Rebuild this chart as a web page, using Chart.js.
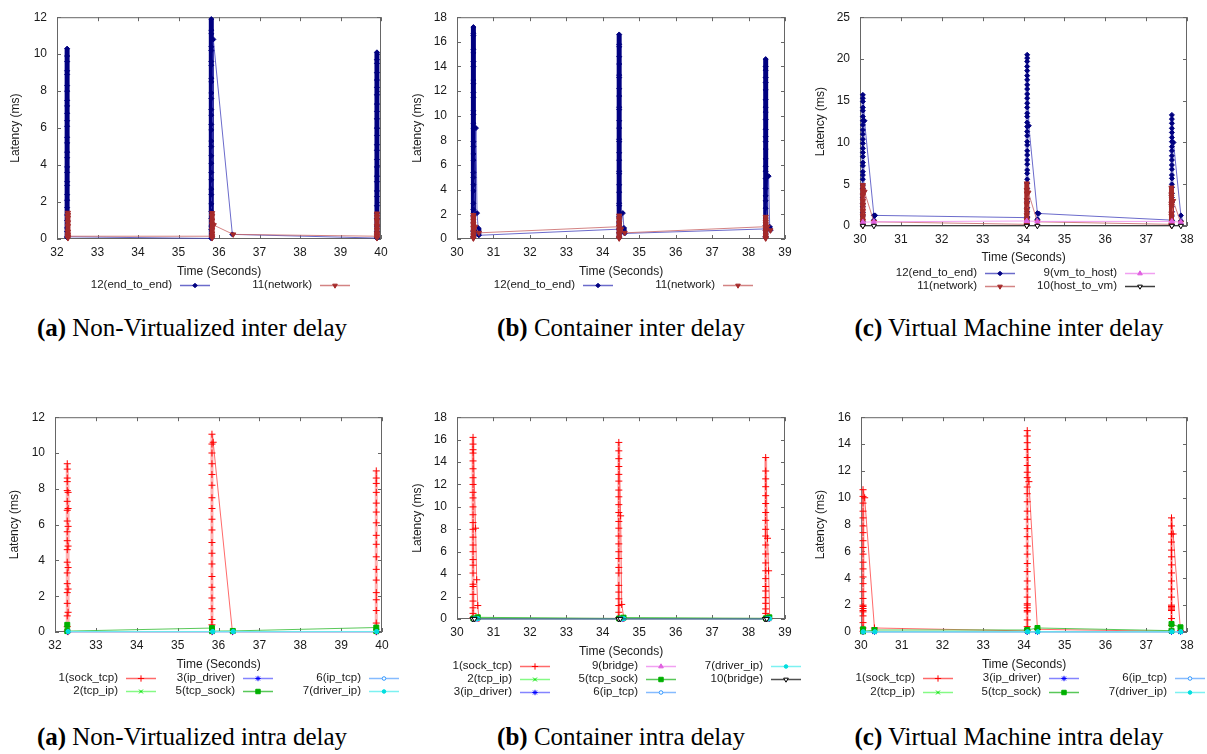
<!DOCTYPE html>
<html>
<head>
<meta charset="utf-8">
<script src="https://cdn.jsdelivr.net/npm/chart.js@4.4.1/dist/chart.umd.min.js"></script>
<style>
  body { margin: 0; background: #fff; width: 1207px; height: 754px; position: relative; overflow: hidden; }
  .panel { position: absolute; }
  .panel canvas { display: block; }
  .caption { position: absolute; width: 500px; text-align: center; line-height: 30px;
             font-family: "Liberation Serif", "Times New Roman", serif; font-size: 25px; color: #000; }
</style>
</head>
<body>
<div class="caption" style="left:-58px; top:313px"><b>(a)</b> Non-Virtualized inter delay</div>
<div class="caption" style="left:371px; top:313px"><b>(b)</b> Container inter delay</div>
<div class="caption" style="left:759px; top:313px"><b>(c)</b> Virtual Machine inter delay</div>
<div class="caption" style="left:-58px; top:722px"><b>(a)</b> Non-Virtualized intra delay</div>
<div class="caption" style="left:371px; top:722px"><b>(b)</b> Container intra delay</div>
<div class="caption" style="left:759px; top:722px"><b>(c)</b> Virtual Machine intra delay</div>

<script>
// axis ranges (seconds / ms)
const timeNV = [32, 40];
const timeCT = [30, 39];
const timeVM = [30, 38];
const latMaxInter = [12, 18, 25];
const latStepInter = [2, 2, 5];
const latMaxIntra = [12, 18, 16];

// samples grouped by timestamp: [time (s), [latencies (ms) in trace order]]

// ---- (a) non-virtualized, inter ----
const nvInterE2E = [
  [32.25, [0.08, 0.6, 1.3, 2.1, 2.9, 3.6, 4.4, 5.2, 6.1, 6.8, 7.5, 8.3, 8.9, 9.6, 10.3, 9.9, 9.1, 8.0, 7.2, 6.4, 5.5, 4.7, 3.9, 3.1, 2.4, 1.7, 1.0, 0.4, 0.12]],
  [35.81, [0.03, 0.7, 1.5, 2.4, 3.2, 4.1, 5.0, 5.9, 6.7, 7.6, 8.5, 9.4, 10.2, 11.1, 11.9, 11.3, 10.4, 9.6, 8.7, 7.9, 7.0, 6.2, 5.3, 4.5, 3.6, 2.7, 1.9, 1.1, 0.5]],
  [35.86, [10.8]], [36.33, [0.25]],
  [39.9, [0.05, 0.7, 1.4, 2.3, 3.1, 3.9, 4.8, 5.6, 6.5, 7.3, 8.2, 9.0, 9.7, 10.1, 9.5, 8.6, 7.8, 6.9, 6.0, 5.1, 4.3, 3.4, 2.6, 1.8, 1.1, 0.4, 0.06]]
];
const nvInterNet = [
  [32.27, [0.05, 0.4, 0.9, 1.3, 1.42, 1.15, 0.7, 0.25, 0.1, 0.15]],
  [35.83, [0.15, 0.5, 1.0, 1.4, 1.25, 0.8, 0.3, 0.05]],
  [35.87, [0.75]], [36.35, [0.25]],
  [39.9, [0.15, 0.5, 1.0, 1.38, 1.2, 0.7, 0.3, 0.05, 0.2]]
];

// ---- (b) container, inter ----
const ctInterE2E = [
  [30.45, [0.1, 1.3, 2.4, 3.9, 5.0, 6.4, 7.5, 9.0, 10.1, 11.5, 12.6, 14.0, 15.1, 16.5, 17.2, 16.7, 15.4, 14.4, 12.9, 11.9, 10.4, 9.4, 7.9, 6.9, 5.4, 4.4, 2.9, 1.9, 0.6, 0.2]],
  [30.52, [9.0]], [30.55, [2.1]], [30.58, [0.9]], [30.6, [0.3]],
  [34.45, [0.8, 0.1, 1.3, 2.7, 3.8, 5.3, 6.4, 7.9, 9.0, 10.5, 11.6, 13.1, 14.2, 15.6, 16.6, 15.8, 14.8, 13.3, 12.2, 10.7, 9.6, 8.1, 7.0, 5.5, 4.4, 2.9, 1.8, 0.5, 0.15]],
  [34.55, [2.1]], [34.58, [0.9]], [34.6, [0.45]],
  [38.47, [0.82, 0.1, 1.1, 2.5, 3.5, 4.9, 5.9, 7.3, 8.3, 9.7, 10.7, 12.1, 13.1, 14.0, 14.6, 13.7, 12.7, 11.3, 10.3, 8.9, 7.9, 6.5, 5.5, 4.1, 3.1, 1.7, 0.7, 0.2]],
  [38.55, [5.1]], [38.58, [1.0]], [38.6, [0.7]]
];
const ctInterNet = [
  [30.45, [0.05, 0.6, 1.2, 1.7, 1.95, 1.5, 0.9, 0.3, 0.1]], [30.5, [1.0]], [30.6, [0.5]],
  [34.45, [1.0, 0.05, 0.7, 1.3, 1.9, 1.6, 1.0, 0.4, 0.1]], [34.5, [0.8]], [34.6, [0.5]],
  [38.47, [1.0, 0.05, 0.6, 1.2, 1.8, 1.4, 0.8, 0.3, 0.1]], [38.52, [1.0]], [38.6, [0.7]]
];

// ---- (c) virtual machine, inter ----
const vmInterE2E = [
  [30.07, [0.1, 0.5, 1.2, 1.6, 2.3, 2.7, 3.4, 3.8, 4.5, 4.9, 5.6, 6.1, 6.5, 7.2, 7.6, 8.3, 8.8, 9.3, 9.9, 10.4, 11.0, 11.5, 12.1, 12.6, 13.1, 13.8, 14.2, 14.9, 15.3, 15.7]],
  [30.11, [12.6]], [30.34, [1.27, 0.7]], [30.37, [1.27]],
  [34.09, [1.0, 0.1, 0.6, 1.1, 1.7, 2.2, 2.9, 3.3, 4.0, 4.5, 5.1, 5.6, 6.3, 6.7, 7.4, 7.9, 8.5, 9.0, 9.7, 10.1, 10.8, 11.3, 11.9, 12.4, 13.1, 13.5, 14.2, 14.7, 15.3, 15.8, 16.4, 16.9, 17.5, 18.0, 18.6, 19.1, 19.7, 20.1, 20.5]],
  [34.13, [12.0]], [34.34, [1.54, 0.8]], [34.37, [1.5]],
  [37.63, [0.7, 0.1, 0.6, 1.2, 1.7, 2.3, 2.8, 3.4, 3.9, 4.6, 5.0, 5.7, 6.1, 6.8, 7.3, 7.9, 8.4, 9.0, 9.5, 10.1, 10.6, 11.2, 11.7, 12.3, 12.8, 13.3]],
  [37.67, [10.0]], [37.85, [1.27, 0.6]]
];
const vmInterNet = [
  [30.07, [0.05, 1.2, 2.5, 3.7, 4.9, 4.2, 3.0, 1.8, 0.6, 0.1]], [30.11, [4.1]], [30.34, [0.5]],
  [34.08, [0.2, 0.05, 1.3, 2.6, 3.9, 5.1, 4.3, 3.1, 1.9, 0.7, 0.1]], [34.12, [4.0]], [34.34, [0.5]],
  [37.62, [0.2, 0.05, 1.2, 2.4, 3.5, 4.6, 3.8, 2.7, 1.5, 0.4, 0.1]], [37.66, [3.0]], [37.85, [0.4]]
];
const vmInterVmHost = [[30.07, [0.45]], [30.34, [0.5]], [34.08, [0.6]], [34.34, [0.55]], [37.63, [0.55]], [37.85, [0.45]]];
const vmInterHostVm = [[30.07, [0.02]], [30.34, [0.02]], [34.08, [0.02]], [34.34, [0.02]], [37.63, [0.02]], [37.85, [0.02]]];

// ---- (a) non-virtualized, intra ----
const nvIntraSockTcp = [
  [32.3, [0.05, 0.3, 0.9, 1.6, 2.2, 2.7, 3.3, 3.9, 4.6, 5.1, 5.6, 6.2, 6.8, 7.3, 7.9, 8.4, 8.6, 9.1, 9.4]],
  [32.32, [7.8, 6.9, 5.9, 4.8, 3.6, 2.4, 1.1, 0.02]],
  [35.84, [0.02, 0.4, 0.7, 1.3, 1.9, 2.5, 3.1, 3.8, 4.4, 5.0, 5.7, 6.3, 6.9, 7.5, 8.2, 8.8, 9.4, 10.0, 10.5, 11.05]],
  [35.87, [10.6]], [36.34, [0.02]],
  [39.86, [0.02, 0.5, 1.2, 1.8, 2.2, 2.9, 3.5, 4.2, 4.9, 5.4, 6.1, 6.7, 7.2, 7.8, 8.3, 8.6, 9.0, 0.02]]
];
const nvIntraTcpIp = [[32.3, [0.02]], [35.84, [0.02]], [36.35, [0.02]], [39.86, [0.02]]];
const nvIntraIpDriver = [[32.31, [0.01]], [35.85, [0.01]], [36.35, [0.01]], [39.87, [0.01]]];
const nvIntraTcpSock = [[32.3, [0.4, 0.05]], [35.84, [0.22, 0.05]], [36.35, [0.06]], [39.86, [0.25, 0.05]]];
const nvIntraIpTcp = [[32.32, [0.02]], [35.86, [0.02]], [36.36, [0.02]], [39.87, [0.02]]];
const nvIntraDriverIp = [[32.32, [0.03]], [35.86, [0.03]], [36.36, [0.03]], [39.87, [0.03]]];

// ---- (b) container, intra ----
const ctIntraSockTcp = [
  [30.44, [0.1, 0.5, 1.0, 1.6, 2.2, 2.9, 3.1, 4.1, 4.8, 5.3, 6.0, 6.6, 7.3, 8.0, 8.6, 9.3, 10.0, 10.8, 11.3, 12.0, 12.6, 13.4, 14.1, 14.8, 15.1, 15.6, 16.2]],
  [30.51, [8.1]], [30.54, [3.5]], [30.57, [1.2]], [30.6, [0.05]],
  [34.44, [0.05, 0.1, 0.6, 1.2, 1.8, 2.4, 3.0, 4.1, 4.6, 5.4, 6.0, 6.7, 7.4, 8.1, 8.7, 9.5, 10.2, 10.9, 11.5, 12.3, 12.9, 13.6, 14.3, 15.0, 15.75]],
  [34.49, [9.2]], [34.52, [1.3]], [34.58, [0.05]],
  [38.47, [0.05, 0.1, 0.5, 0.9, 1.4, 1.9, 2.5, 2.9, 3.6, 4.3, 5.0, 5.8, 6.6, 7.4, 8.0, 8.8, 9.5, 10.3, 11.0, 11.8, 12.5, 13.2, 14.4]],
  [38.52, [7.2]], [38.55, [4.3]], [38.58, [0.05]]
];
const ctIntraTcpIp = [[30.44, [0.02]], [30.56, [0.1]], [34.44, [0.02]], [34.56, [0.1]], [38.47, [0.02]], [38.56, [0.1]]];
const ctIntraIpDriver = [[30.45, [0.01]], [30.55, [0.01]], [34.45, [0.01]], [34.55, [0.01]], [38.48, [0.01]], [38.56, [0.01]]];
const ctIntraBridge9 = [[30.46, [0.04]], [30.56, [0.05]], [34.46, [0.04]], [34.56, [0.05]], [38.48, [0.04]], [38.57, [0.05]]];
const ctIntraTcpSock = [[30.45, [0.05]], [30.57, [0.15]], [34.45, [0.05]], [34.57, [0.12]], [38.48, [0.06]], [38.57, [0.15]]];
const ctIntraIpTcp = [[30.47, [0.02]], [30.58, [0.03]], [34.47, [0.02]], [34.58, [0.03]], [38.5, [0.02]], [38.58, [0.03]]];
const ctIntraDriverIp = [[30.48, [0.03]], [30.57, [0.03]], [34.48, [0.03]], [34.57, [0.03]], [38.5, [0.03]], [38.58, [0.03]]];
const ctIntraBridge10 = [[30.43, [0.01]], [30.48, [0.01]], [34.43, [0.01]], [34.48, [0.01]], [38.45, [0.01]], [38.5, [0.01]]];

// ---- (c) virtual machine, intra ----
const vmIntraSockTcp = [
  [30.05, [0.05, 0.3, 0.7, 1.2, 1.5, 1.6, 1.75, 1.9, 2.0, 2.5, 3.0, 3.6, 4.1, 4.7, 5.2, 5.8, 6.3, 6.8, 7.4, 7.9, 8.5, 9.0, 9.6, 10.1, 10.6]],
  [30.09, [10.0]], [30.33, [0.3]],
  [34.08, [0.08, 0.05, 0.4, 0.9, 1.5, 1.6, 1.8, 2.0, 2.1, 2.6, 3.2, 3.8, 4.5, 5.1, 5.8, 6.4, 7.1, 7.7, 8.4, 9.0, 9.7, 10.3, 10.8, 11.5, 11.9, 12.4, 13.0, 13.6, 14.1, 14.6, 15.0]],
  [34.12, [11.2]], [34.33, [0.2]],
  [37.62, [0.05, 0.5, 1.0, 1.6, 1.7, 1.8, 1.9, 2.0, 2.6, 3.2, 3.8, 4.4, 5.0, 5.6, 6.1, 6.7, 7.3, 7.9, 8.5]],
  [37.66, [7.3]], [37.84, [0.1]]
];
const vmIntraTcpIp = [[30.05, [0.02]], [30.33, [0.02]], [34.08, [0.02]], [34.33, [0.02]], [37.62, [0.02]], [37.84, [0.02]]];
const vmIntraIpDriver = [[30.05, [0.01]], [30.33, [0.01]], [34.08, [0.01]], [34.33, [0.01]], [37.62, [0.01]], [37.84, [0.01]]];
const vmIntraTcpSock = [[30.05, [0.2, 0.05]], [30.33, [0.15]], [34.08, [0.15]], [34.33, [0.3]], [37.62, [0.1, 0.6]], [37.84, [0.35]]];
const vmIntraIpTcp = [[30.05, [0.01]], [30.34, [0.01]], [34.08, [0.01]], [34.34, [0.01]], [37.62, [0.01]], [37.85, [0.01]]];
const vmIntraDriverIp = [[30.06, [0.02]], [30.34, [0.02]], [34.09, [0.02]], [34.34, [0.02]], [37.63, [0.02]], [37.85, [0.02]]];

// gnuplot-like point types per trace kind
const SERIES = {
  e2e:      { style: 'rectRot',  r: 2.5, rot: 0,   mark: '#000080', fill: '#000080', line: 'rgba(70,70,190,0.8)' },
  net:      { style: 'triangle', r: 3,   rot: 180, mark: '#a52a2a', fill: '#a52a2a', line: 'rgba(200,100,100,0.8)' },
  vmHost:   { style: 'triangle', r: 3,   rot: 0,   mark: '#e060e0', fill: '#e060e0', line: 'rgba(240,150,240,0.9)' },
  hostVm:   { style: 'triangle', r: 3,   rot: 180, mark: '#000000', fill: '#ffffff', line: 'rgba(40,40,40,0.9)' },
  sockTcp:  { style: 'cross',    r: 3.5, rot: 0,   mark: '#ff0000', fill: '#ff0000', line: 'rgba(255,80,80,0.85)' },
  tcpIp:    { style: 'crossRot', r: 3,   rot: 0,   mark: '#00e000', fill: '#00e000', line: 'rgba(120,250,120,0.9)' },
  ipDriver: { style: 'star',     r: 3,   rot: 0,   mark: '#0000ff', fill: '#0000ff', line: 'rgba(110,110,255,0.85)' },
  tcpSock:  { style: 'rect',     r: 3.5, rot: 0,   mark: '#00b000', fill: '#00b000', line: 'rgba(60,190,60,0.85)' },
  ipTcp:    { style: 'circle',   r: 2,   rot: 0,   mark: '#3399ff', fill: '#ffffff', line: 'rgba(120,180,255,0.9)' },
  driverIp: { style: 'circle',   r: 2,   rot: 0,   mark: '#00dede', fill: '#00dede', line: 'rgba(110,240,240,0.9)' },
  bridge9:  { style: 'triangle', r: 3,   rot: 0,   mark: '#e060e0', fill: '#e060e0', line: 'rgba(240,150,240,0.9)' },
  bridge10: { style: 'triangle', r: 3,   rot: 180, mark: '#000000', fill: '#ffffff', line: 'rgba(60,60,60,0.9)' }
};

const FONT = '"Liberation Sans", Arial, sans-serif';
Chart.defaults.font.family = FONT;
Chart.defaults.color = '#1a1a1a';

const sockCol = 'rgba(255,130,130,0.6)';

const panels = [
  { box: [0, 0, 400, 300], plot: { l: 57, r: 381, t: 10, b: 239 }, titleY: 272, yTitleX: 16,
    time: timeNV, yMax: latMaxInter[0], yStep: latStepInter[0],
    series: [
      { key: 'net', data: nvInterNet, colW: 5, colC: '#a52a2a' },
      { key: 'e2e', data: nvInterE2E, colW: 5, colC: '#000080' }
    ],
    legend: { rows: [285], cols: [172, 312], entries: [
      ['12(end_to_end)', 'e2e', 0, 0], ['11(network)', 'net', 0, 1]] } },
  { box: [400, 0, 410, 300], plot: { l: 457, r: 785, t: 10, b: 239 }, titleY: 272, yTitleX: 418,
    time: timeCT, yMax: latMaxInter[1], yStep: latStepInter[1],
    series: [
      { key: 'net', data: ctInterNet, colW: 5, colC: '#a52a2a' },
      { key: 'e2e', data: ctInterE2E, colW: 5, colC: '#000080' }
    ],
    legend: { rows: [285], cols: [575, 715], entries: [
      ['12(end_to_end)', 'e2e', 0, 0], ['11(network)', 'net', 0, 1]] } },
  { box: [800, 0, 407, 300], plot: { l: 860, r: 1187, t: 10, b: 226 }, titleY: 258, yTitleX: 821,
    time: timeVM, yMax: latMaxInter[2], yStep: latStepInter[2],
    series: [
      { key: 'hostVm', data: vmInterHostVm },
      { key: 'vmHost', data: vmInterVmHost },
      { key: 'net', data: vmInterNet, colW: 5, colC: '#a52a2a' },
      { key: 'e2e', data: vmInterE2E, colW: 4, colC: 'rgba(140,140,205,0.6)' }
    ],
    legend: { rows: [273, 286], cols: [977, 1117], entries: [
      ['12(end_to_end)', 'e2e', 0, 0], ['11(network)', 'net', 1, 0],
      ['9(vm_to_host)', 'vmHost', 0, 1], ['10(host_to_vm)', 'hostVm', 1, 1]] } },
  { box: [0, 400, 400, 300], plot: { l: 55, r: 382, t: 415, b: 632 }, titleY: 665, yTitleX: 15,
    time: timeNV, yMax: latMaxIntra[0], yStep: 2,
    series: [
      { key: 'driverIp', data: nvIntraDriverIp },
      { key: 'ipTcp', data: nvIntraIpTcp },
      { key: 'tcpSock', data: nvIntraTcpSock },
      { key: 'ipDriver', data: nvIntraIpDriver },
      { key: 'tcpIp', data: nvIntraTcpIp },
      { key: 'sockTcp', data: nvIntraSockTcp, colW: 3, colC: sockCol }
    ],
    legend: { rows: [678, 691], cols: [118, 235, 361], entries: [
      ['1(sock_tcp)', 'sockTcp', 0, 0], ['2(tcp_ip)', 'tcpIp', 1, 0],
      ['3(ip_driver)', 'ipDriver', 0, 1], ['5(tcp_sock)', 'tcpSock', 1, 1],
      ['6(ip_tcp)', 'ipTcp', 0, 2], ['7(driver_ip)', 'driverIp', 1, 2]] } },
  { box: [400, 400, 410, 300], plot: { l: 457, r: 785, t: 415, b: 619 }, titleY: 652, yTitleX: 418,
    time: timeCT, yMax: latMaxIntra[1], yStep: 2,
    series: [
      { key: 'bridge10', data: ctIntraBridge10 },
      { key: 'driverIp', data: ctIntraDriverIp },
      { key: 'ipTcp', data: ctIntraIpTcp },
      { key: 'tcpSock', data: ctIntraTcpSock },
      { key: 'bridge9', data: ctIntraBridge9 },
      { key: 'ipDriver', data: ctIntraIpDriver },
      { key: 'tcpIp', data: ctIntraTcpIp },
      { key: 'sockTcp', data: ctIntraSockTcp, colW: 3, colC: sockCol }
    ],
    legend: { rows: [666, 679, 692], cols: [512, 638, 763], entries: [
      ['1(sock_tcp)', 'sockTcp', 0, 0], ['2(tcp_ip)', 'tcpIp', 1, 0], ['3(ip_driver)', 'ipDriver', 2, 0],
      ['9(bridge)', 'bridge9', 0, 1], ['5(tcp_sock)', 'tcpSock', 1, 1], ['6(ip_tcp)', 'ipTcp', 2, 1],
      ['7(driver_ip)', 'driverIp', 0, 2], ['10(bridge)', 'bridge10', 1, 2]] } },
  { box: [800, 400, 407, 300], plot: { l: 861, r: 1187, t: 415, b: 632 }, titleY: 665, yTitleX: 821,
    time: timeVM, yMax: latMaxIntra[2], yStep: 2,
    series: [
      { key: 'driverIp', data: vmIntraDriverIp },
      { key: 'ipTcp', data: vmIntraIpTcp },
      { key: 'tcpSock', data: vmIntraTcpSock },
      { key: 'ipDriver', data: vmIntraIpDriver },
      { key: 'tcpIp', data: vmIntraTcpIp },
      { key: 'sockTcp', data: vmIntraSockTcp, colW: 3, colC: sockCol }
    ],
    legend: { rows: [678, 692], cols: [915, 1041, 1167], entries: [
      ['1(sock_tcp)', 'sockTcp', 0, 0], ['2(tcp_ip)', 'tcpIp', 1, 0],
      ['3(ip_driver)', 'ipDriver', 0, 1], ['5(tcp_sock)', 'tcpSock', 1, 1],
      ['6(ip_tcp)', 'ipTcp', 0, 2], ['7(driver_ip)', 'driverIp', 1, 2]] } }
];

function flatten(groups) {
  const pts = [];
  groups.forEach(([t, vals]) => vals.forEach(v => pts.push({ x: t, y: v })));
  return pts;
}

// samples taken at (almost) the same instant stack into a vertical column
const isColumn = c => Math.abs(c.p1.parsed.x - c.p0.parsed.x) < 0.025;

function makeDataset(spec) {
  const s = SERIES[spec.key];
  const colW = spec.colW || 1;
  const colC = spec.colC || s.line;
  return {
    data: flatten(spec.data),
    showLine: true,
    borderColor: s.line,
    borderWidth: 1,
    pointStyle: s.style,
    pointRotation: s.rot,
    pointRadius: s.r,
    pointHoverRadius: s.r,
    pointBorderWidth: 1,
    pointBorderColor: s.mark,
    pointBackgroundColor: s.fill,
    clip: 8,
    segment: {
      borderWidth: c => isColumn(c) ? colW : 1,
      borderColor: c => isColumn(c) ? colC : s.line
    }
  };
}

const drawPt = (Chart.helpers && Chart.helpers.drawPoint) || function (ctx, o, x, y) {
  ctx.beginPath(); ctx.arc(x, y, o.radius, 0, Math.PI * 2); ctx.fill(); ctx.stroke();
};

// border box with inward ticks on all four sides
const gnuFrame = {
  id: 'gnuFrame',
  beforeDatasetsDraw(chart) {
    const { ctx, chartArea: a, scales: { x, y } } = chart;
    ctx.save();
    ctx.strokeStyle = '#666';
    ctx.lineWidth = 1;
    ctx.strokeRect(a.left + 0.5, a.top + 0.5, a.right - a.left - 1, a.bottom - a.top - 1);
    ctx.beginPath();
    x.ticks.forEach(t => {
      const px = Math.round(x.getPixelForValue(t.value)) + 0.5;
      ctx.moveTo(px, a.bottom); ctx.lineTo(px, a.bottom - 4);
      ctx.moveTo(px, a.top); ctx.lineTo(px, a.top + 4);
    });
    y.ticks.forEach(t => {
      const py = Math.round(y.getPixelForValue(t.value)) + 0.5;
      ctx.moveTo(a.left, py); ctx.lineTo(a.left + 4, py);
      ctx.moveTo(a.right, py); ctx.lineTo(a.right - 4, py);
    });
    ctx.stroke();
    ctx.restore();
  }
};

// key below the plot: right-aligned label, then a line sample with the point type
const gnuLegend = {
  id: 'gnuLegend',
  afterDraw(chart, args, opts) {
    if (!opts || !opts.entries) return;
    const ctx = chart.ctx;
    ctx.save();
    ctx.font = '11.5px ' + FONT;
    ctx.textAlign = 'right';
    ctx.textBaseline = 'middle';
    opts.entries.forEach(([label, key, row, col]) => {
      const s = SERIES[key];
      const y = opts.rows[row] - opts.top;
      const xr = opts.cols[col] - opts.left;
      ctx.fillStyle = '#1a1a1a';
      ctx.fillText(label, xr, y);
      ctx.strokeStyle = s.line;
      ctx.lineWidth = 1.5;
      ctx.beginPath();
      ctx.moveTo(xr + 8, y + 0.5);
      ctx.lineTo(xr + 38, y + 0.5);
      ctx.stroke();
      ctx.strokeStyle = s.mark;
      ctx.fillStyle = s.fill;
      ctx.lineWidth = 1;
      drawPt(ctx, { pointStyle: s.style, rotation: s.rot, radius: s.r * 0.9, borderWidth: 1 }, xr + 23, y + 0.5);
    });
    ctx.restore();
  }
};

panels.forEach(p => {
  const [bl, bt, bw, bh] = p.box;
  const wrap = document.createElement('div');
  wrap.className = 'panel';
  wrap.style.left = bl + 'px';
  wrap.style.top = bt + 'px';
  wrap.style.width = bw + 'px';
  wrap.style.height = bh + 'px';
  const cv = document.createElement('canvas');
  cv.width = bw;
  cv.height = bh;
  cv.style.width = bw + 'px';
  cv.style.height = bh + 'px';
  wrap.appendChild(cv);
  document.body.appendChild(wrap);

  const xAxisH = p.titleY + 7.2 - p.plot.b;
  const tickFont = { size: 12, family: FONT };

  new Chart(cv, {
    type: 'scatter',
    data: { datasets: p.series.map(makeDataset) },
    options: {
      responsive: false,
      animation: false,
      events: [],
      layout: {
        padding: {
          left: 0,
          top: p.plot.t - bt,
          right: bl + bw - p.plot.r,
          bottom: bt + bh - (p.plot.b + xAxisH)
        }
      },
      scales: {
        x: {
          type: 'linear',
          min: p.time[0], max: p.time[1],
          ticks: { stepSize: 1, padding: 6, font: tickFont, color: '#1a1a1a', maxRotation: 0 },
          grid: { display: false, drawTicks: false },
          border: { display: false },
          title: { display: true, text: 'Time (Seconds)', font: tickFont, color: '#1a1a1a', padding: { top: 0, bottom: 0 } },
          afterFit: sc => { sc.height = xAxisH; }
        },
        y: {
          min: 0, max: p.yMax,
          ticks: { stepSize: p.yStep, padding: 10, font: tickFont, color: '#1a1a1a' },
          grid: { display: false, drawTicks: false },
          border: { display: false },
          title: { display: true, text: 'Latency (ms)', font: tickFont, color: '#1a1a1a', padding: { top: p.yTitleX - bl - 7.2, bottom: 0 } },
          afterFit: sc => { sc.width = p.plot.l - bl; }
        }
      },
      plugins: {
        legend: { display: false },
        tooltip: { enabled: false },
        gnuLegend: Object.assign({ left: bl, top: bt }, p.legend)
      }
    },
    plugins: [gnuFrame, gnuLegend]
  });
});
</script>
</body>
</html>
